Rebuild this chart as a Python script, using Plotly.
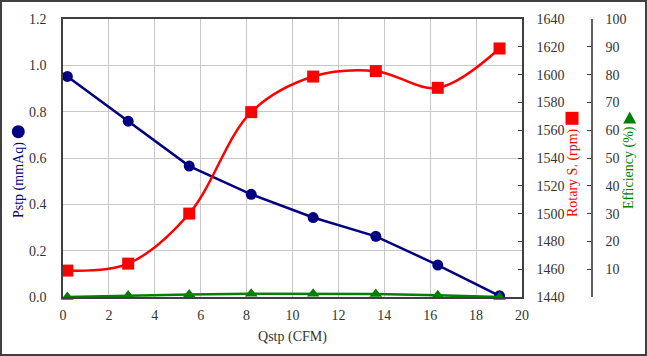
import plotly.graph_objects as go

qstp = [0.19, 2.84, 5.5, 8.2, 10.9, 13.63, 16.33, 19.02]
pstp = [0.952, 0.759, 0.565, 0.443, 0.343, 0.262, 0.138, 0.005]
rpm = [1459, 1464, 1500, 1573, 1598.6, 1602.5, 1590.5, 1618.8]
eff = [0.0, 0.5, 0.9, 1.2, 1.2, 1.1, 0.6, 0.0]

FONT = "Liberation Serif"
NAVY, RED, GREEN = "#000080", "#FF0000", "#008000"
TXT = "#333333"

W, H = 647, 356
ML, MR, MT, MB = 63, 55, 19, 59
PW, PH = W - ML - MR, H - MT - MB
XDOM = (522 - ML) / PW

fig = go.Figure()
fig.add_trace(go.Scatter(x=qstp, y=pstp, mode="lines+markers", name="Pstp",
                         line=dict(color=NAVY, width=2.5),
                         marker=dict(symbol="circle", size=11, color=NAVY),
                         yaxis="y"))
fig.add_trace(go.Scatter(x=qstp, y=rpm, mode="lines+markers", name="Rotary S.",
                         line=dict(color=RED, width=2.5, shape="spline", smoothing=1),
                         marker=dict(symbol="square", size=12, color=RED),
                         yaxis="y2"))
fig.add_trace(go.Scatter(x=qstp, y=eff, mode="lines+markers", name="Efficiency",
                         line=dict(color=GREEN, width=2.5),
                         marker=dict(symbol="triangle-up", size=11, color=GREEN),
                         yaxis="y3", cliponaxis=False))

axcol = "#404040"
gridcol = "#c8c8c8"
tf = dict(family=FONT, size=14, color=TXT)

fig.update_layout(
    width=W, height=H,
    margin=dict(l=ML, r=MR, t=MT, b=MB, pad=0, autoexpand=False),
    paper_bgcolor="white", plot_bgcolor="white",
    showlegend=False,
    font=dict(family=FONT, size=14, color=TXT),
    xaxis=dict(domain=[0, XDOM], range=[0, 20], dtick=2, tick0=0,
               showgrid=True, gridcolor=gridcol, gridwidth=1,
               showline=True, linecolor=axcol, linewidth=1.5, mirror=True,
               ticks="", zeroline=False, ticklabelstandoff=4, tickfont=tf,
               automargin=False,
               title=dict(text="Qstp (CFM)", font=tf, standoff=10)),
    yaxis=dict(range=[0, 1.2], dtick=0.2, tickformat=".1f",
               showgrid=True, gridcolor=gridcol, gridwidth=1,
               showline=True, linecolor=axcol, linewidth=1.5, mirror=True,
               ticks="", zeroline=False, ticklabelstandoff=12, tickfont=tf,
               automargin=False),
    yaxis2=dict(range=[1440, 1640], dtick=20, overlaying="y", side="right",
                anchor="x", showgrid=False, zeroline=False,
                showline=True, linecolor=axcol, linewidth=1.5,
                ticks="inside", ticklen=4, tickcolor=axcol, ticklabelstandoff=10,
                tickfont=tf, automargin=False),
    yaxis3=dict(range=[0, 100], tickvals=list(range(0, 101, 10)),
                ticktext=[""] + [str(v) for v in range(10, 101, 10)],
                overlaying="y", side="right", anchor="free", position=1.0,
                showgrid=False, zeroline=False,
                showline=True, linecolor="#606060", linewidth=1.5,
                ticks="inside", ticklen=4, tickcolor="#404040", ticklabelstandoff=10,
                tickfont=tf, automargin=False),
)

def px(x):
    return (x - ML) / PW

def py(y):
    return (H - MB - y) / PH

# axis titles
fig.add_annotation(x=px(19), y=py(180), xref="paper", yref="paper",
                   text="Pstp (mmAq)", textangle=-90, showarrow=False,
                   xanchor="center", yanchor="middle",
                   font=dict(family=FONT, size=14, color=NAVY))
fig.add_annotation(x=px(573), y=py(173), xref="paper", yref="paper",
                   text="Rotary S. (rpm)", textangle=-90, showarrow=False,
                   xanchor="center", yanchor="middle",
                   font=dict(family=FONT, size=14, color=RED))
fig.add_annotation(x=px(629), y=py(168), xref="paper", yref="paper",
                   text="Efficiency (%)", textangle=-90, showarrow=False,
                   xanchor="center", yanchor="middle",
                   font=dict(family=FONT, size=14, color=GREEN))

# title symbols
cx, cy, r = 18.3, 131.7, 6.5
fig.add_shape(type="circle", xref="paper", yref="paper",
              x0=px(cx - r), x1=px(cx + r), y0=py(cy + r), y1=py(cy - r),
              fillcolor=NAVY, line=dict(width=0))
sx, sy, s = 572, 118.3, 6.5
fig.add_shape(type="rect", xref="paper", yref="paper",
              x0=px(sx - s), x1=px(sx + s), y0=py(sy + s), y1=py(sy - s),
              fillcolor=RED, line=dict(width=0))
tx, ty = 629.7, 117.5
fig.add_shape(type="path", xref="paper", yref="paper",
              path=f"M {px(tx - 6.5)} {py(ty + 6)} L {px(tx + 6.5)} {py(ty + 6)} L {px(tx)} {py(ty - 6)} Z",
              fillcolor=GREEN, line=dict(width=0))

# outer frame
fig.add_shape(type="rect", xref="paper", yref="paper",
              x0=px(1), x1=px(W - 1), y0=py(H - 1), y1=py(1),
              line=dict(color="#404040", width=2), layer="below")

fig.write_html("out.html", config={"displayModeBar": False},
               post_script="document.body.style.margin='0';document.body.style.overflow='hidden';")
